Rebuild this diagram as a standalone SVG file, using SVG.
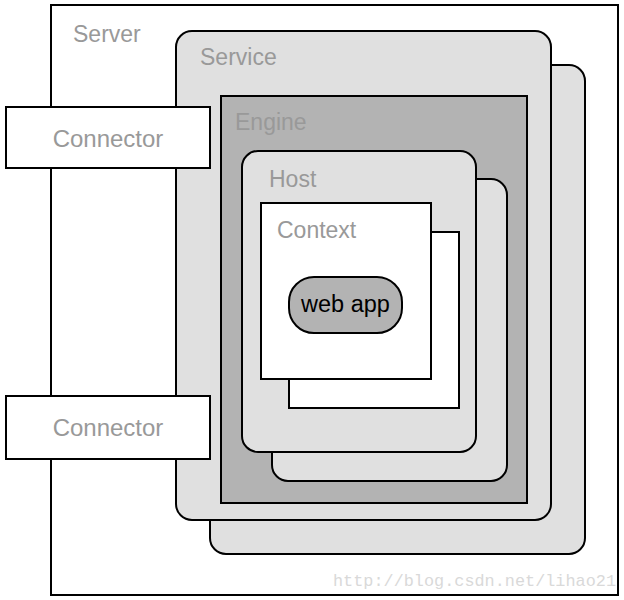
<svg xmlns="http://www.w3.org/2000/svg" width="624" height="600" viewBox="0 0 624 600">
<style>
.b{stroke:#000;stroke-width:2}
.lbl{font-family:"Liberation Sans",Arial,sans-serif;font-size:23px;fill:#999}
.light{fill:#e0e0e0}
.dark{fill:#b3b3b3}
.white{fill:#fff}
</style>
<rect width="624" height="600" fill="#fff"/>
<g id="server">
<rect class="b white" x="51" y="5" width="567" height="590"/>
<text class="lbl" x="73" y="42">Server</text>
</g>
<g id="service">
<rect class="b light" x="210" y="65" width="375" height="489" rx="16"/>
<rect class="b light" x="176" y="31" width="375" height="489" rx="16"/>
<text class="lbl" x="200" y="65">Service</text>
</g>
<g id="engine">
<rect class="b dark" x="221" y="96" width="306" height="407"/>
<text class="lbl" x="235" y="130">Engine</text>
</g>
<g id="host">
<rect class="b light" x="272" y="179" width="235" height="302" rx="16"/>
<rect class="b light" x="242" y="151" width="234" height="301" rx="16"/>
<text class="lbl" x="269" y="187">Host</text>
</g>
<g id="context">
<rect class="b white" x="289" y="232" width="170" height="176"/>
<rect class="b white" x="261" y="203" width="170" height="176"/>
<text class="lbl" x="277" y="238">Context</text>
</g>
<g id="webapp">
<rect class="b dark" x="289" y="277" width="113" height="56" rx="25"/>
<text x="345.5" y="312" text-anchor="middle" style="font-family:'Liberation Sans',Arial,sans-serif;font-size:23.5px;fill:#000">web app</text>
</g>
<g id="connector1">
<rect class="b white" x="6" y="107" width="204" height="61"/>
<text class="lbl" x="108" y="147" text-anchor="middle" style="font-size:24px">Connector</text>
</g>
<g id="connector2">
<rect class="b white" x="6" y="396" width="204" height="63"/>
<text class="lbl" x="108" y="436" text-anchor="middle" style="font-size:24px">Connector</text>
</g>
<g id="connectors"></g>
<text x="333" y="586" textLength="283" lengthAdjust="spacingAndGlyphs" style="font-family:'Liberation Mono','DejaVu Sans Mono',monospace;font-size:17px;fill:#d9d9d9">http://blog.csdn.net/lihao21</text>
</svg>
